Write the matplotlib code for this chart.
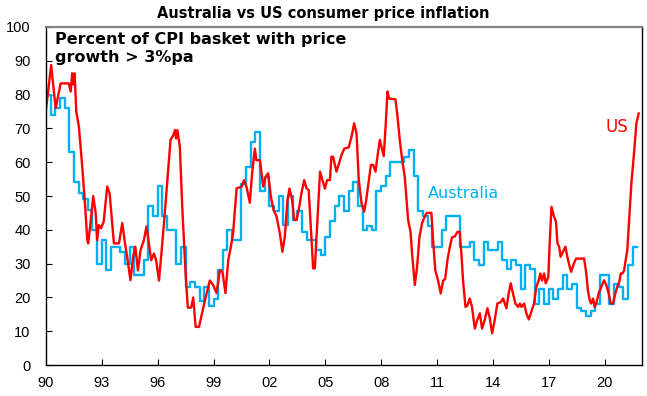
import matplotlib
matplotlib.use("Agg")
import matplotlib.pyplot as plt

plt.rcParams['font.family'] = ['Liberation Sans', 'DejaVu Sans']

# US: share of CPI basket with price growth > 3%pa
us_years = [1990.0, 1990.28, 1990.52, 1990.79, 1991.23, 1991.33, 1991.41, 1991.47, 1991.54,
            1991.63, 1991.77, 1991.95, 1992.13, 1992.22, 1992.27, 1992.4, 1992.54, 1992.67,
            1992.75, 1992.84, 1992.96, 1993.1, 1993.29, 1993.42, 1993.65, 1993.92, 1994.1,
            1994.22, 1994.36, 1994.54, 1994.68, 1994.8, 1994.94, 1995.08, 1995.26, 1995.4,
            1995.53, 1995.65, 1995.8, 1995.92, 1996.07, 1996.2, 1996.37, 1996.55, 1996.69,
            1996.84, 1996.93, 1996.99, 1997.06, 1997.19, 1997.32, 1997.5, 1997.62, 1997.8,
            1997.91, 1998.04, 1998.22, 1998.54, 1998.8, 1998.98, 1999.16, 1999.34, 1999.48,
            1999.64, 1999.79, 1999.93, 2000.05, 2000.24, 2000.5, 2000.64, 2000.77, 2000.95,
            2001.07, 2001.22, 2001.3, 2001.49, 2001.67, 2001.8, 2001.93, 2002.08, 2002.22,
            2002.38, 2002.56, 2002.7, 2002.83, 2002.97, 2003.08, 2003.22, 2003.33, 2003.46,
            2003.58, 2003.72, 2003.87, 2003.99, 2004.11, 2004.22, 2004.35, 2004.44, 2004.58,
            2004.72, 2004.85, 2004.98, 2005.1, 2005.25, 2005.33, 2005.42, 2005.6, 2005.74,
            2005.87, 2006.02, 2006.26, 2006.41, 2006.55, 2006.68, 2006.8, 2006.95, 2007.09,
            2007.2, 2007.34, 2007.45, 2007.57, 2007.7, 2007.8, 2007.93, 2008.02, 2008.14,
            2008.25, 2008.34, 2008.43, 2008.77, 2008.88, 2009.0, 2009.13, 2009.27, 2009.45,
            2009.58, 2009.66, 2009.81, 2009.93, 2010.06, 2010.2, 2010.34, 2010.45, 2010.7,
            2010.79, 2010.91, 2011.06, 2011.2, 2011.33, 2011.44, 2011.56, 2011.69, 2011.81,
            2011.95, 2012.1, 2012.22, 2012.31, 2012.4, 2012.53, 2012.63, 2012.76, 2012.88,
            2013.03, 2013.16, 2013.3, 2013.42, 2013.56, 2013.71, 2013.83, 2013.96, 2014.1,
            2014.24, 2014.42, 2014.55, 2014.73, 2014.85, 2014.96, 2015.08, 2015.21, 2015.36,
            2015.45, 2015.54, 2015.68, 2015.8, 2015.93, 2016.07, 2016.21, 2016.34, 2016.46,
            2016.55, 2016.64, 2016.75, 2016.84, 2016.98, 2017.06, 2017.15, 2017.28, 2017.39,
            2017.47, 2017.56, 2017.64, 2017.76, 2017.9, 2018.0, 2018.13, 2018.2, 2018.35,
            2018.47, 2018.9, 2019.02, 2019.1, 2019.2, 2019.28, 2019.38, 2019.47, 2019.55,
            2019.68, 2019.83, 2019.97, 2020.09, 2020.22, 2020.33, 2020.45, 2020.58, 2020.68,
            2020.79, 2020.87, 2020.96, 2021.05, 2021.13, 2021.22, 2021.31, 2021.44, 2021.58,
            2021.71, 2021.83]
us_values = [75.4, 88.7, 76, 83.3, 83.3, 80.9, 86.3, 83, 86.3,
             75, 70.5, 58.7, 45, 37, 36, 42.4, 50, 45,
             37, 41.4, 40.5, 42.4, 52.8, 50.8, 36, 36, 42,
             37, 32, 25.1, 32, 35, 28, 34, 37, 41,
             36, 31, 33, 31, 25, 33, 44, 56.7, 66.6,
             68, 69.5, 67, 69.5, 64.6, 46.8, 27, 17, 17,
             20, 11.3, 11.3, 19.2, 25, 23.7, 21.3, 28, 27.6,
             21.3, 31, 35, 39, 52.3, 52.7, 54.7, 52.7, 48,
             56.7, 64, 60.6, 60.6, 52.8, 55.7, 56.7, 49.8, 45.9,
             44, 39, 33.5, 38, 48.8, 52.2, 48.8, 42.9, 43,
             46, 50.8, 54.7, 52.3, 51.8, 41, 28.6, 28.6, 42.9,
             57.2, 54.7, 52.2, 54.7, 54.7, 61.6, 61.6, 57.2, 59.6,
             62.1, 64, 64.4, 67.5, 71.5, 68.5, 54.7, 47.8, 45.4,
             48.8, 54.7, 59.2, 59.2, 57.2, 61.6, 66.6, 64.6, 61.8,
             71.5, 80.9, 78.8, 78.6, 73.5, 66.6, 60.7, 55.7, 42.9,
             39.4, 33, 23.7, 29, 38, 42, 43.9, 45, 45,
             37, 28, 25, 21.2, 25, 25.5, 31, 35, 37.8,
             38, 39.4, 39.4, 33, 25, 17.2, 17.6, 19.7, 17.2,
             10.8, 13.3, 15.3, 10.8, 13.3, 16.8, 14, 9.4, 13.3,
             18.2, 18.6, 19.7, 16.8, 21.2, 24.2, 21.2, 18.2, 17.2,
             18.2, 17.2, 18.2, 15.3, 13.5, 15.8, 18.2, 23.2, 25,
             27.1, 25, 27.1, 24.2, 26.1, 37, 46.8, 44, 42.4,
             36, 35, 32, 33.5, 35, 32, 29, 27.6, 30,
             31.5, 31.5, 27.1, 22.2, 19.2, 18.2, 19.7, 17.2, 18.2,
             21.2, 23.2, 25.1, 23.7, 21.2, 18.2, 18.2, 21.2, 23.2,
             24.6, 27.1, 27.1, 28, 31, 34, 42, 53.8, 62.6,
             71.5, 74.4]

# Australia: quarterly, start of each quarter from 1990Q1 (last value repeated to close the step)
aus_start = 1990.0
aus_values = [80, 74, 76, 79, 76, 63, 54, 51,
              49, 46, 40, 30, 37, 28, 35, 35,
              33.5, 30, 35, 26.5, 26.5, 31, 47, 44,
              53, 44, 40, 40, 30, 35, 23, 24.5,
              23, 19, 23, 17.5, 19.5, 28, 34, 40,
              37, 37, 53.5, 58.5, 66, 69, 51.5, 55.5,
              47, 45.5, 50, 41.5, 50, 43, 45.5, 39.5,
              37, 37, 34, 32.5, 38, 42.5, 47, 50,
              45.5, 51.5, 54, 47, 40, 41, 40, 51.5,
              53, 56, 60, 60, 60, 61.5, 63.5, 56,
              45.5, 44, 41, 35, 35, 40, 44, 44,
              44, 35, 35, 36.5, 31, 29.5, 36.5, 34,
              34, 36.5, 31, 28.5, 31, 29.5, 22.5, 29.5,
              28.5, 18, 22.5, 18, 22.5, 19.5, 22.5, 26.5,
              22.5, 24, 17, 16, 14.5, 16, 18, 26.5,
              26.5, 18, 24, 23, 19.5, 29.5, 35, 35]
aus_years = [aus_start + 0.25 * i for i in range(len(aus_values))]

tick_years = list(range(1990, 2021, 3))
tick_labels = [f"{y % 100:02d}" for y in tick_years]

red = '#FF0000'
blue = '#00B0F0'

fig = plt.figure(figsize=(6.47, 3.96), dpi=100)
ax = fig.add_axes([0.071, 0.078, 0.921, 0.854])

ax.step(aus_years, aus_values, where='post', color=blue, lw=1.7)
ax.plot(us_years, us_values, color=red, lw=1.7)

ax.set_xlim(1990, 2022)
ax.set_ylim(0, 100)
ax.set_yticks(range(0, 101, 10))
ax.set_xticks(tick_years)
ax.set_xticklabels(tick_labels)
ax.tick_params(direction='in', length=4, labelsize=10.5, colors='black', width=0.8)
ax.tick_params(axis='x', pad=8)
ax.tick_params(axis='y', pad=11)

for side in ['left', 'bottom', 'right']:
    ax.spines[side].set_color('black')
    ax.spines[side].set_linewidth(1.0)
ax.spines['top'].set_color('#808080')
ax.spines['top'].set_linewidth(1.6)

wide = ['DejaVu Sans']
fig.text(0.5, 0.965, "Australia vs US consumer price inflation", ha='center', va='center',
         fontsize=10.5, fontweight='bold', family=wide)
ax.text(0.016, 0.985, "Percent of CPI basket with price\ngrowth > 3%pa", transform=ax.transAxes,
        ha='left', va='top', fontsize=11.5, fontweight='bold', linespacing=1.25, family=wide)
ax.text(2020.05, 70.5, "US", color=red, fontsize=12, ha='left', va='center', family=wide)
ax.text(2010.5, 50.8, "Australia", color=blue, fontsize=11.5, ha='left', va='center', family=wide)

fig.savefig("out.png", dpi=100)
